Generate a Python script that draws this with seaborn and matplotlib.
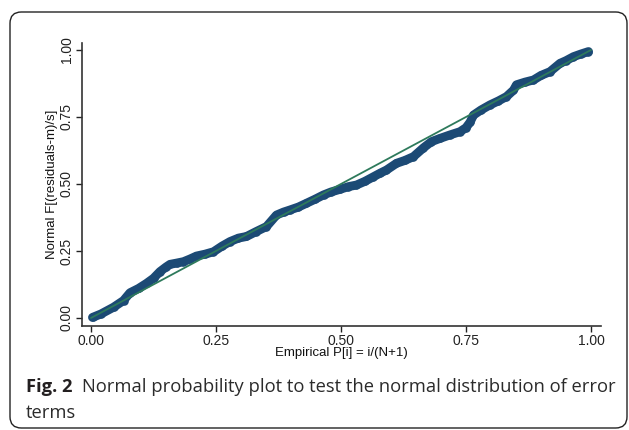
import matplotlib
matplotlib.use("Agg")
import matplotlib.pyplot as plt
import seaborn as sns
import pandas as pd
from matplotlib.patches import FancyBboxPatch

# values
emp_p = [0.003, 0.02, 0.045, 0.065, 0.078, 0.095, 0.111, 0.125, 0.138, 0.150,
         0.158, 0.172, 0.185, 0.198, 0.211, 0.228, 0.245, 0.262, 0.278, 0.295,
         0.311, 0.33, 0.351, 0.371, 0.385, 0.398, 0.415, 0.431, 0.448, 0.465,
         0.48, 0.498, 0.515, 0.531, 0.548, 0.565, 0.578, 0.591, 0.611, 0.628,
         0.645, 0.665, 0.681, 0.698, 0.718, 0.738, 0.75, 0.758, 0.765, 0.78,
         0.798, 0.815, 0.831, 0.845, 0.851, 0.868, 0.885, 0.9, 0.918, 0.938,
         0.95, 0.965, 0.98, 0.995]
norm_f = [0.002, 0.015, 0.04, 0.065, 0.094, 0.11, 0.129, 0.148, 0.173, 0.19,
          0.20, 0.205, 0.21, 0.22, 0.231, 0.238, 0.247, 0.268, 0.285, 0.298,
          0.304, 0.322, 0.341, 0.384, 0.395, 0.403, 0.414, 0.428, 0.443, 0.459,
          0.47, 0.48, 0.49, 0.496, 0.51, 0.527, 0.54, 0.552, 0.577, 0.588,
          0.602, 0.635, 0.658, 0.67, 0.683, 0.695, 0.71, 0.73, 0.757, 0.776,
          0.795, 0.81, 0.826, 0.85, 0.87, 0.88, 0.888, 0.905, 0.919, 0.95,
          0.96, 0.975, 0.985, 0.994]
ref_x = [0.0, 1.0]
ref_y = [0.0, 1.0]
ticks = [0.0, 0.25, 0.5, 0.75, 1.0]
tick_labels = ["0.00", "0.25", "0.50", "0.75", "1.00"]

df = pd.DataFrame({"p": emp_p, "f": norm_f})

sns.set_style("ticks")
plt.rcParams['font.family'] = ['Liberation Sans', 'DejaVu Sans']

navy = "#1c4a75"
green = "#2e7a5c"

fig = plt.figure(figsize=(6.29, 4.30), dpi=100)
ax = fig.add_axes([82 / 629, 1 - 326 / 430, 519 / 629, 283 / 430])

sns.lineplot(data=df, x="p", y="f", sort=False, color=navy, lw=6.4,
             solid_capstyle="round", solid_joinstyle="round", ax=ax)
sns.scatterplot(data=df, x="p", y="f", color=navy, s=38, edgecolor=navy,
                linewidth=0, ax=ax, zorder=3)
sns.lineplot(x=ref_x, y=ref_y, color=green, lw=1.3, ax=ax, zorder=4)

ax.set_xlim(-0.018, 1.02)
ax.set_ylim(-0.03, 1.026)
ax.set_xticks(ticks)
ax.set_xticklabels(tick_labels)
ax.set_yticks(ticks)
ax.set_yticklabels(tick_labels, rotation=90, va="center")
ax.tick_params(axis="both", labelsize=10, length=4, width=1, colors="#222222",
               pad=2)
for s in ["top", "right"]:
    ax.spines[s].set_visible(False)
for s in ["left", "bottom"]:
    ax.spines[s].set_linewidth(1.2)
    ax.spines[s].set_color("#333333")

ax.set_xlabel("Empirical P[i] = i/(N+1)", fontsize=9.5, labelpad=-1,
              color="#111111")
ax.set_ylabel("Normal F[(residuals-m)/s]", fontsize=9.5, labelpad=1,
              color="#111111")

# rounded frame round the figure
frame = FancyBboxPatch((10 / 629, 1 - 428 / 430), 617 / 629, 416 / 430,
                       boxstyle="round,pad=0,rounding_size=0.018",
                       transform=fig.transFigure, fill=False,
                       edgecolor="#222222", linewidth=1.0,
                       mutation_aspect=629 / 430)
fig.patches.append(frame)

# caption
cap_font = ['Open Sans', 'DejaVu Sans']
t1 = fig.text(26 / 629, 1 - 392 / 430, "Fig. 2", fontsize=13.2, weight="bold",
              family=cap_font, color="#231f20", va="baseline")
fig.canvas.draw()
bb = t1.get_window_extent()
fig.text((bb.x1 + 9) / 629, 1 - 392 / 430,
         "Normal probability plot to test the normal distribution of error",
         fontsize=13.2, family=cap_font, color="#2b2b2b", va="baseline")
fig.text(26 / 629, 1 - 418 / 430, "terms", fontsize=13.2, family=cap_font,
         color="#2b2b2b", va="baseline")

fig.savefig("out.png", dpi=100)
